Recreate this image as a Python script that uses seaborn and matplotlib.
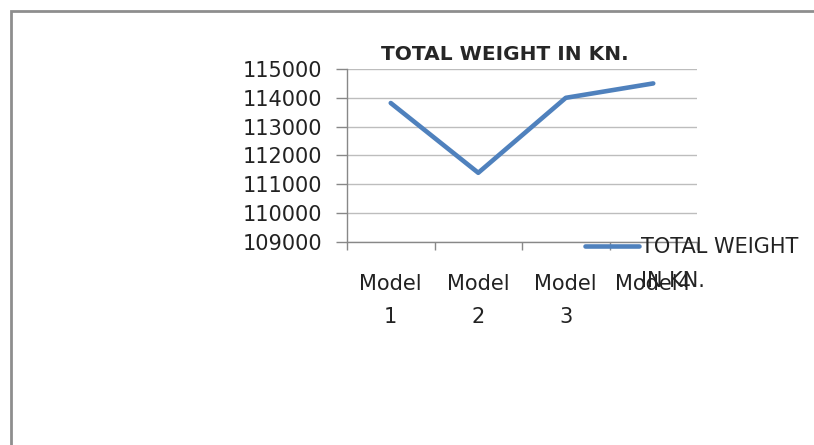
import matplotlib
matplotlib.use("Agg")
import matplotlib.pyplot as plt
from matplotlib.patches import Rectangle
from matplotlib.ticker import FixedLocator
import seaborn as sns
import pandas as pd


# total weight per model
models = ["Model\n1", "Model\n2", "Model\n3", "Model4"]
weights = [113820, 111400, 114000, 114500]
series_name = "TOTAL WEIGHT\nIN KN."
y_ticks = [109000, 110000, 111000, 112000, 113000, 114000, 115000]


sns.set_style("white")
plt.rcParams['font.family'] = ['DejaVu Sans']

data = pd.DataFrame({'model': models, 'weight': weights})

fig = plt.figure(figsize=(8.14, 4.45), dpi=100)
ax = fig.add_axes([347 / 814, 1 - 242 / 445, 350 / 814, 173 / 445])

pos = list(range(len(models)))
sns.lineplot(x=pos, y=data['weight'], ax=ax, color='#4F81BD', linewidth=3.3,
             label=series_name, sort=False)

ax.set_ylim(y_ticks[0], y_ticks[-1])
ax.set_yticks(y_ticks)
ax.set_yticklabels([str(t) for t in y_ticks], fontsize=15, color='#222222')
ax.yaxis.grid(True, color='#bdbdbd', linewidth=1)
ax.tick_params(axis='y', length=8, width=1, color='#888888', pad=10, left=True)

ax.set_xlim(-0.5, len(models) - 0.5)
ax.xaxis.set_major_locator(FixedLocator([p - 0.5 for p in pos] + [len(models) - 0.5]))
ax.xaxis.set_minor_locator(FixedLocator(pos))
ax.set_xticklabels([])
ax.set_xticklabels(models, minor=True, fontsize=15, color='#222222', linespacing=1.8)
ax.tick_params(axis='x', which='major', length=6, width=1, color='#888888', bottom=True)
ax.tick_params(axis='x', which='minor', length=0, pad=23)
ax.set_xlabel('')
ax.set_ylabel('')

for side in ['top', 'right']:
    ax.spines[side].set_visible(False)
for side in ['left', 'bottom']:
    ax.spines[side].set_color('#888888')
    ax.spines[side].set_linewidth(1)

ax.set_title("TOTAL WEIGHT IN KN.", fontsize=14.5, fontweight='bold',
             x=(505 - 347) / 350, y=1.005)

leg = ax.legend(loc='upper left', bbox_to_anchor=(585 / 814, 1 - 237 / 445),
                bbox_transform=fig.transFigure, frameon=False, fontsize=15,
                handlelength=2.6, handletextpad=0.1, borderaxespad=0,
                borderpad=0, labelspacing=0)
for t in leg.get_texts():
    t.set_color('#222222')
    t.set_linespacing(1.85)
# keep the legend line level with the first line of its label
for ln in leg.get_lines():
    ln.set_ydata([y + 13 for y in ln.get_ydata()])

# outer frame of the chart object, running off the right and bottom edges
fig.patches.append(Rectangle((11 / 814, -0.1), 1.2, 1.1 - 11 / 445,
                             transform=fig.transFigure, fill=False,
                             edgecolor='#8e8e8e', linewidth=2))

fig.savefig("out.png", dpi=100)
